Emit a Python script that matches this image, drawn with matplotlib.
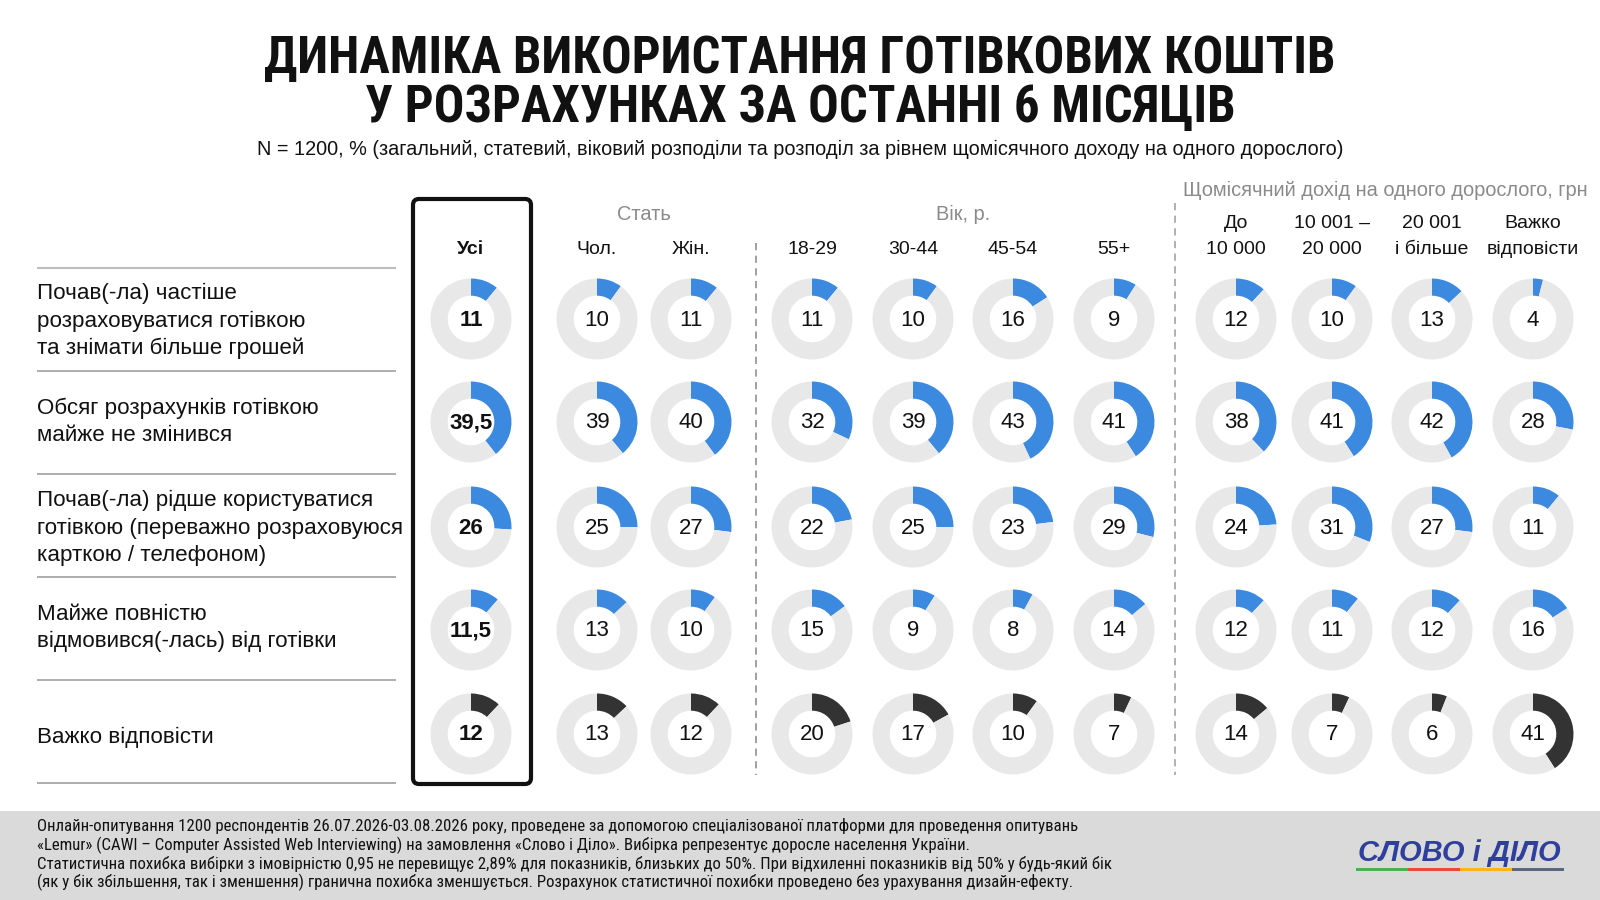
import matplotlib
matplotlib.use("Agg")
import matplotlib.pyplot as plt
from matplotlib import font_manager
from matplotlib.font_manager import FontProperties
from matplotlib.patches import FancyBboxPatch, Rectangle

# ---------------- data ----------------
title_lines = ["ДИНАМІКА ВИКОРИСТАННЯ ГОТІВКОВИХ КОШТІВ", "У РОЗРАХУНКАХ ЗА ОСТАННІ 6 МІСЯЦІВ"]
subtitle = ("N = 1200, % (загальний, статевий, віковий розподіли та розподіл за рівнем "
            "щомісячного доходу на одного дорослого)")

row_labels = [
    ["Почав(-ла) частіше", "розраховуватися готівкою", "та знімати більше грошей"],
    ["Обсяг розрахунків готівкою", "майже не змінився"],
    ["Почав(-ла) рідше користуватися", "готівкою (переважно розраховуюся", "карткою / телефоном)"],
    ["Майже повністю", "відмовився(-лась) від готівки"],
    ["Важко відповісти"],
]

col_labels = [["Усі"], ["Чол."], ["Жін."], ["18-29"], ["30-44"], ["45-54"], ["55+"],
              ["До", "10 000"], ["10 001 –", "20 000"], ["20 001", "і більше"],
              ["Важко", "відповісти"]]

group_labels = ["Стать", "Вік, р.", "Щомісячний дохід на одного дорослого, грн"]

# values[row][col]
values = [
    [11,   10, 11, 11, 10, 16,  9, 12, 10, 13,  4],
    [39.5, 39, 40, 32, 39, 43, 41, 38, 41, 42, 28],
    [26,   25, 27, 22, 25, 23, 29, 24, 31, 27, 11],
    [11.5, 13, 10, 15,  9,  8, 14, 12, 11, 12, 16],
    [12,   13, 12, 20, 17, 10,  7, 14,  7,  6, 41],
]

footer_lines = [
    "Онлайн-опитування 1200 респондентів 26.07.2026-03.08.2026 року, проведене за допомогою спеціалізованої платформи для проведення опитувань",
    "«Lemur» (CAWI – Computer Assisted Web Interviewing) на замовлення «Слово і Діло». Вибірка репрезентує доросле населення України.",
    "Статистична похибка вибірки з імовірністю 0,95 не перевищує 2,89% для показників, близьких до 50%. При відхиленні показників від 50% у будь-який бік",
    "(як у бік збільшення, так і зменшення) гранична похибка зменшується. Розрахунок статистичної похибки проведено без урахування дизайн-ефекту.",
]
logo_text = "СЛОВО і ДІЛО"

# ---------------- fonts ----------------
SANS = "Liberation Sans"
plt.rcParams["font.family"] = [SANS, "DejaVu Sans"]


def _is_bold(f):
    w = f.weight
    if isinstance(w, str):
        return "bold" in w.lower() or w.lower() in ("heavy", "black", "semibold", "demibold")
    return w >= 600


def narrow_props(bold):
    ttfs = [f for f in font_manager.fontManager.ttflist
            if f.style == "normal" and _is_bold(f) == bold]
    prefs = ["Liberation Sans Narrow", "Arial Narrow", "Roboto Condensed",
             "Open Sans Condensed", "Noto Sans Condensed"]
    for p in prefs:
        for f in ttfs:
            if f.name == p:
                return FontProperties(fname=f.fname)
    for f in ttfs:
        low = (f.fname + f.name).lower()
        if ("narrow" in low or "condensed" in low) and "semicondensed" not in low \
                and "extracondensed" not in low and "cjk" not in low:
            return FontProperties(fname=f.fname)
    return FontProperties(family=SANS, weight="bold" if bold else "normal")


BLUE = "#3b8ae0"
DARK = "#333333"
RING = "#e8e8e8"
GRAYTXT = "#8a8a8a"

W, H = 1600, 900
fig = plt.figure(figsize=(16, 9), dpi=100)
ax = fig.add_axes([0, 0, 1, 1])
ax.set_xlim(0, W)
ax.set_ylim(0, H)
ax.axis("off")
renderer = fig.canvas.get_renderer()


def Y(y):
    return H - y


def fit_width(txt, target_px):
    """scale a text's font size so that its rendered width equals target_px"""
    bb = txt.get_window_extent(renderer)
    if bb.width > 0:
        txt.set_fontsize(txt.get_fontsize() * target_px / bb.width)


# title
tb = narrow_props(True)
t1 = ax.text(800, Y(59), title_lines[0], ha="center", va="center", fontproperties=tb,
             fontsize=35, color="#111111")
fit_width(t1, 1072)
t2 = ax.text(800, Y(108), title_lines[1], ha="center", va="center", fontproperties=tb,
             fontsize=t1.get_fontsize(), color="#111111")
st = ax.text(800, Y(149), subtitle, ha="center", va="center", fontsize=14, color="#111111")
fit_width(st, 1087)

# layout
col_x = [471, 597, 691, 812, 913, 1013, 1114, 1236, 1332, 1432, 1533]
row_y = [319, 422, 527, 630, 734]
sep_y = [268, 371, 474, 577, 680, 783]
label_y = [321, 422, 528, 628, 737]

# row separators
for i, sy in enumerate(sep_y):
    ax.plot([37, 396], [Y(sy), Y(sy)], color="#bdbdbd" if i == 0 else "#a0a0a0",
            lw=1.5 if i == 0 else 1.2, solid_capstyle="butt")

# row labels
line_h = 27.6
for r, lines in enumerate(row_labels):
    n = len(lines)
    y0 = label_y[r] - (n - 1) * line_h / 2
    for k, t in enumerate(lines):
        ax.text(37, Y(y0 + k * line_h), t, ha="left", va="center", fontsize=16.1,
                color="#111111")

# box around "Усі"
ax.add_patch(FancyBboxPatch((413, Y(784)), 118, 585,
                            boxstyle="round,pad=0,rounding_size=6",
                            fill=False, ec="#111111", lw=3))

# column headers
for c, lines in enumerate(col_labels):
    if len(lines) == 1:
        ax.text(col_x[c], Y(250), lines[0], ha="center", va="center", fontsize=14,
                fontweight="bold" if c == 0 else "normal", color="#111111")
    else:
        ax.text(col_x[c], Y(224), lines[0], ha="center", va="center", fontsize=14,
                color="#111111")
        ax.text(col_x[c], Y(250), lines[1], ha="center", va="center", fontsize=14,
                color="#111111")

ax.text((col_x[1] + col_x[2]) / 2, Y(214), group_labels[0], ha="center", va="center",
        fontsize=14.4, color=GRAYTXT)
ax.text((col_x[3] + col_x[6]) / 2, Y(214), group_labels[1], ha="center", va="center",
        fontsize=14.4, color=GRAYTXT)
ax.text(1385, Y(190), group_labels[2], ha="center", va="center",
        fontsize=14.4, color=GRAYTXT)

# dashed dividers
ax.plot([756, 756], [Y(243), Y(775)], color="#999999", lw=1.3, ls=(0, (4, 3)))
ax.plot([1175, 1175], [Y(203), Y(775)], color="#aaaaaa", lw=1.3, ls=(0, (4, 3)))

# donuts
R_OUT = 40.5
R_W = 17.2
for r, rowvals in enumerate(values):
    col = DARK if r == len(values) - 1 else BLUE
    for c, v in enumerate(rowvals):
        cx, cy = col_x[c], Y(row_y[r])
        ax.pie([v, 100 - v], colors=[col, RING], startangle=90, counterclock=False,
               radius=R_OUT, center=(cx, cy), frame=True,
               wedgeprops=dict(width=R_W, edgecolor="none", linewidth=0))
        lab = (f"{v:g}").replace(".", ",")
        ax.text(cx, cy - 1, lab, ha="center", va="center", fontsize=16,
                fontweight="bold" if c == 0 else "normal", color="#111111")

ax.set_xlim(0, W)
ax.set_ylim(0, H)
ax.set_aspect("auto")
ax.axis("off")

# footer band
ax.add_patch(Rectangle((0, 0), W, Y(811), color="#dadada", lw=0, zorder=0.5))
fn = narrow_props(False)
fy = [826, 845, 864, 882]
ft = []
for yy, t in zip(fy, footer_lines):
    ft.append(ax.text(37, Y(yy), t, ha="left", va="center", fontproperties=fn,
                      fontsize=11, color="#111111", zorder=2))
fit_width(ft[0], 1037)
for t in ft[1:]:
    t.set_fontsize(ft[0].get_fontsize())

# logo
ax.text(1459, Y(853), logo_text, ha="center", va="center", fontsize=21,
        fontweight="bold", fontstyle="italic", color="#2f3f9c", zorder=2)
seg_cols = ["#4caf50", "#f0473b", "#fdb515", "#5b6781"]
for i, sc in enumerate(seg_cols):
    ax.add_patch(Rectangle((1356 + i * 52, Y(871)), 52, 3, color=sc, lw=0, zorder=2))

fig.savefig("out.png", dpi=100)
